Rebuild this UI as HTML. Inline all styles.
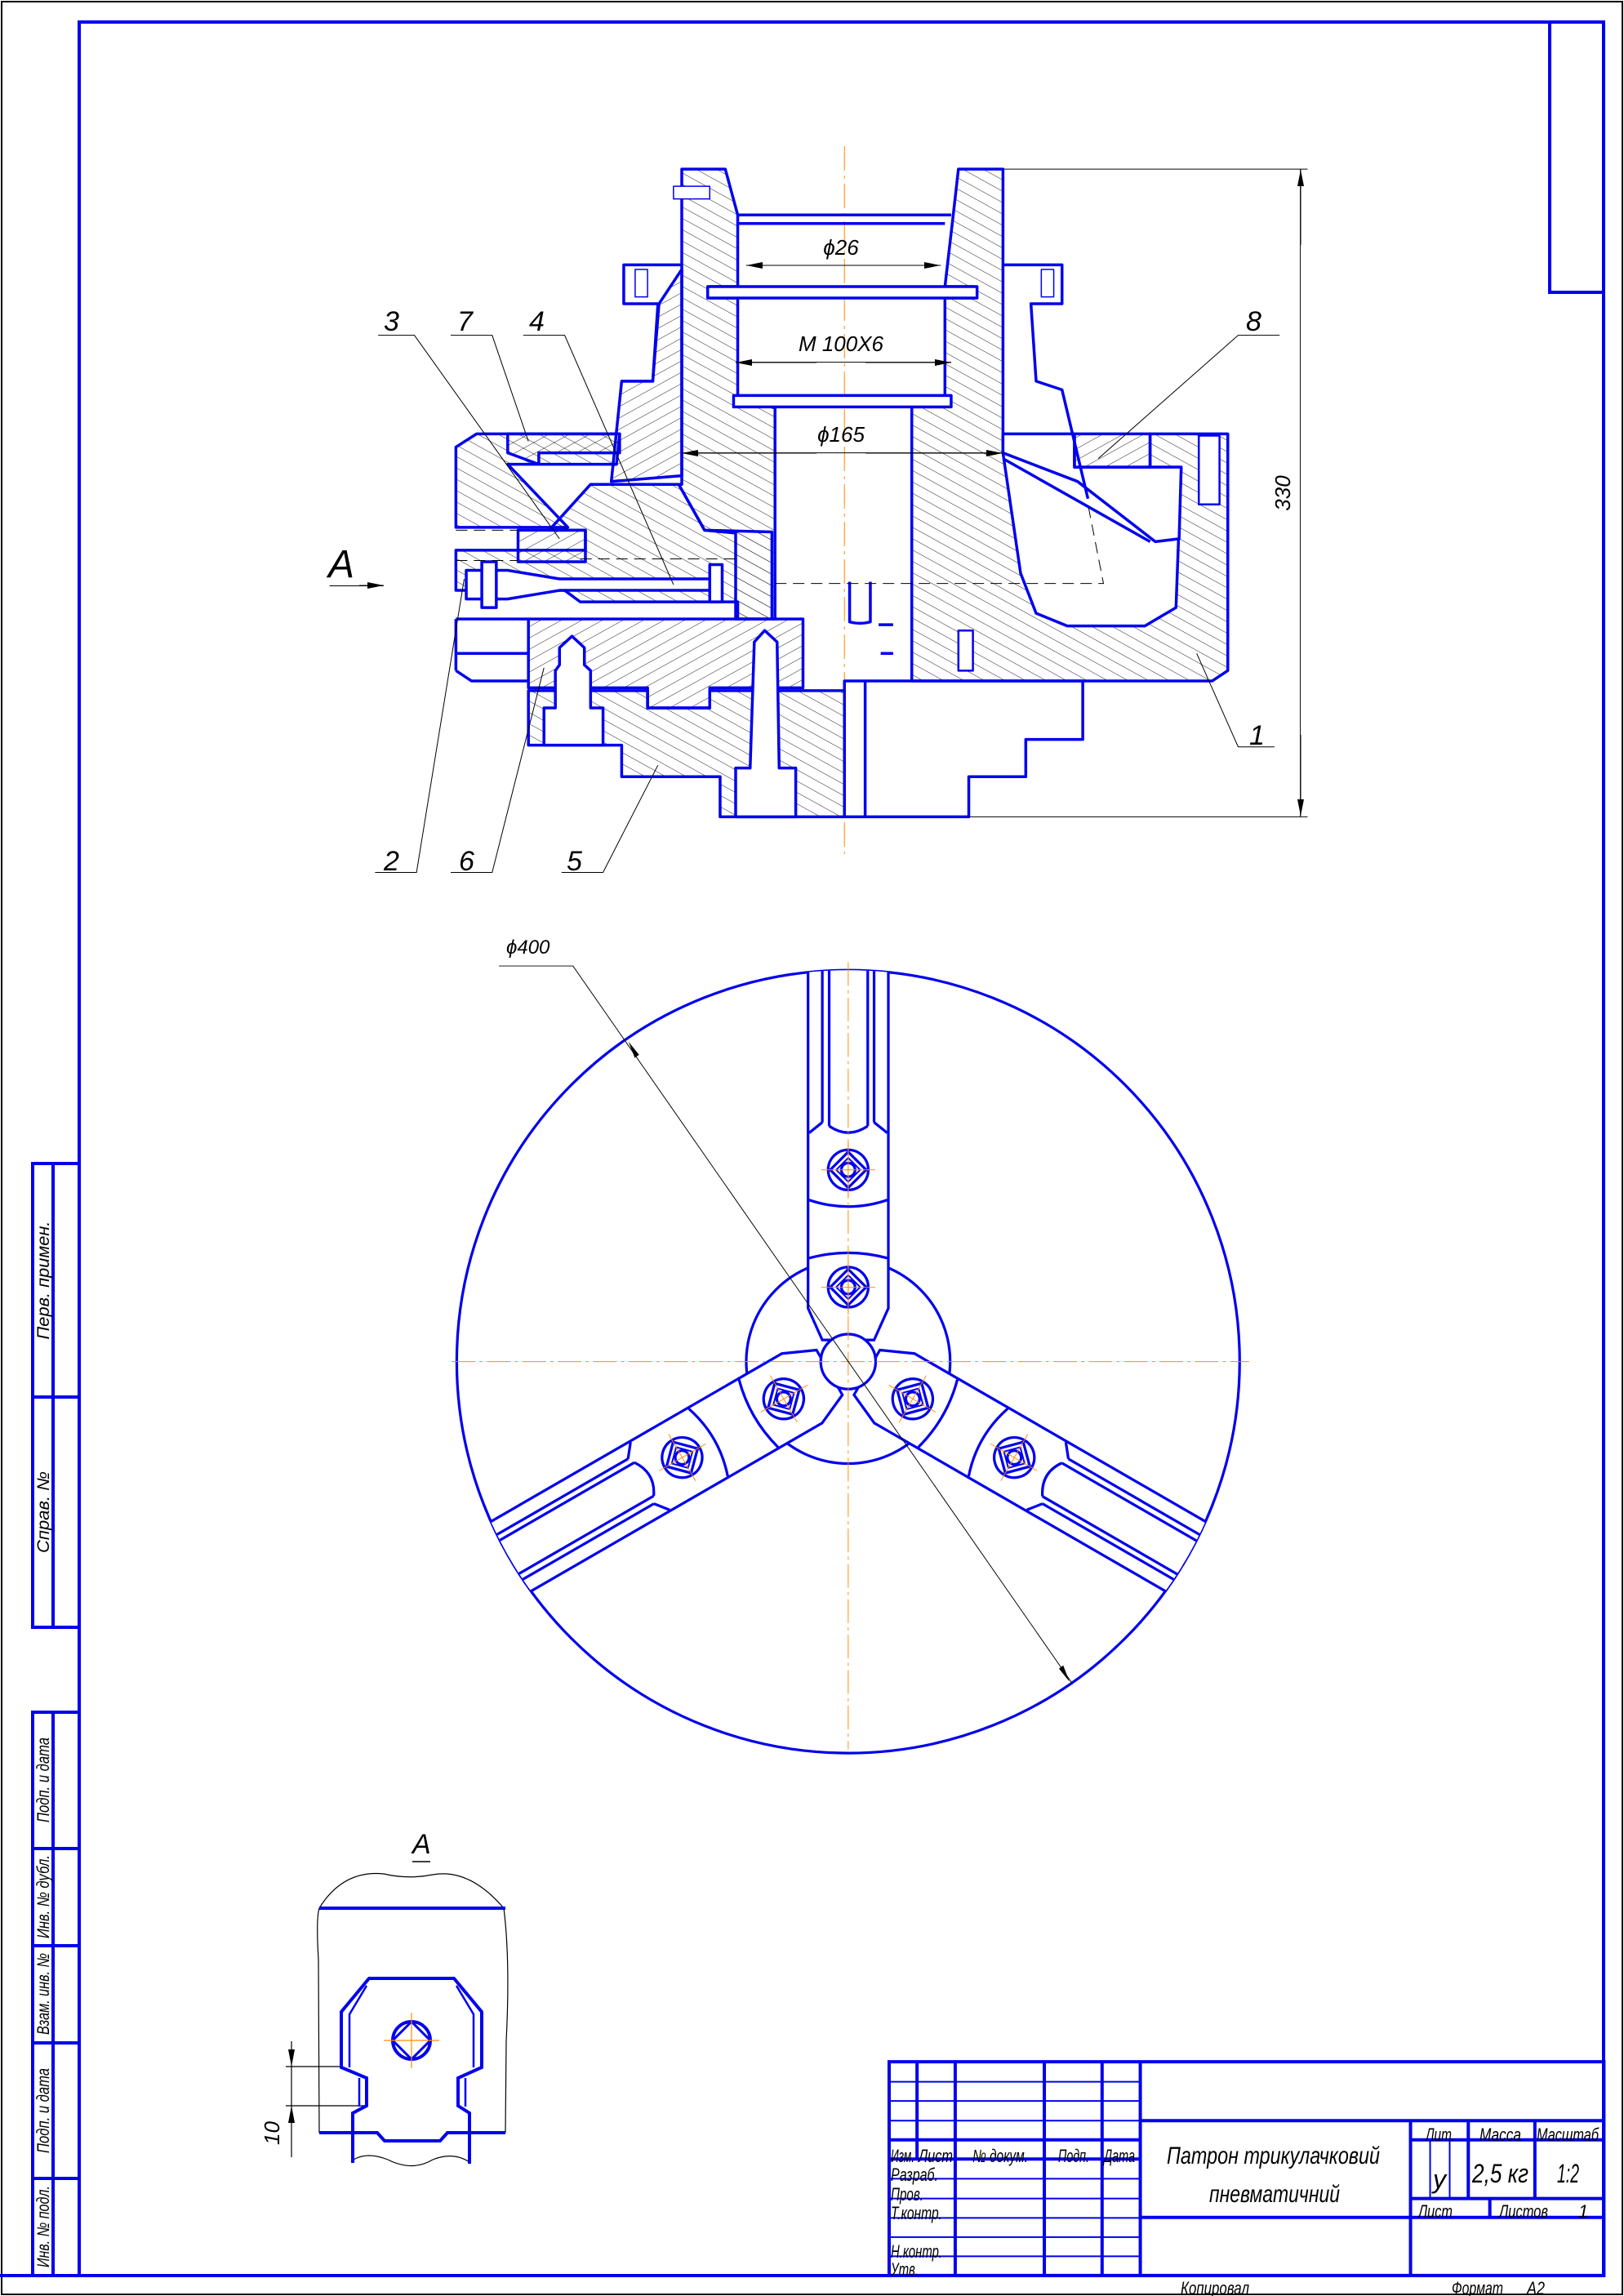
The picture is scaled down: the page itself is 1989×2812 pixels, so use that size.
<!DOCTYPE html>
<html><head><meta charset="utf-8"><style>
html,body{margin:0;padding:0;background:#fff}
svg{display:block}
text{font-family:"Liberation Sans","DejaVu Sans",sans-serif;font-style:italic;fill:#000}
</style></head><body>
<svg width="1989" height="2812" viewBox="0 0 1989 2812" xmlns="http://www.w3.org/2000/svg">
<defs>
<pattern id="h1" width="14" height="14" patternUnits="userSpaceOnUse" patternTransform="rotate(45)"><line x1="0" y1="0" x2="0" y2="14" stroke="#000" stroke-width="1"/></pattern>
<pattern id="h2" width="14" height="14" patternUnits="userSpaceOnUse" patternTransform="rotate(-45)"><line x1="0" y1="0" x2="0" y2="14" stroke="#000" stroke-width="1"/></pattern>
<marker id="ar" viewBox="0 0 20 8" refX="20" refY="4" markerWidth="20" markerHeight="8" markerUnits="userSpaceOnUse" orient="auto"><path d="M0,0 L20,4 L0,8 Z" fill="#000"/></marker>
<clipPath id="cc"><circle cx="771" cy="831" r="741"/></clipPath>
</defs>
<rect x="0" y="0" width="1989" height="2812" fill="#fff"/>
<rect x="2" y="2" width="1985" height="2808" fill="none" stroke="#000" stroke-width="2"/>
<g fill="none" stroke="#0000ee" stroke-width="4">
<rect x="97" y="27" width="1867" height="2760"/>
<polyline points="1898,27 1898,358 1964,358"/>
<polyline points="97,1425 40,1425 40,1993 97,1993"/>
<line x1="65" y1="1425" x2="65" y2="1993"/>
<line x1="40" y1="1711" x2="97" y2="1711"/>
<polyline points="97,2097 40,2097 40,2787 97,2787"/>
<line x1="65" y1="2097" x2="65" y2="2787"/>
<line x1="40" y1="2264" x2="97" y2="2264"/>
<line x1="40" y1="2383" x2="97" y2="2383"/>
<line x1="40" y1="2502" x2="97" y2="2502"/>
<line x1="40" y1="2668" x2="97" y2="2668"/>
</g>
<g font-size="21" text-anchor="middle" lengthAdjust="spacingAndGlyphs">
<text transform="translate(60,1568) rotate(-90)" textLength="145" lengthAdjust="spacingAndGlyphs">Перв. примен.</text>
<text transform="translate(60,1852) rotate(-90)" textLength="100" lengthAdjust="spacingAndGlyphs">Справ. №</text>
<text transform="translate(60,2180) rotate(-90)" textLength="104" lengthAdjust="spacingAndGlyphs">Подп. и дата</text>
<text transform="translate(60,2323) rotate(-90)" textLength="102" lengthAdjust="spacingAndGlyphs">Инв. № дубл.</text>
<text transform="translate(60,2442) rotate(-90)" textLength="100" lengthAdjust="spacingAndGlyphs">Взам. инв. №</text>
<text transform="translate(60,2585) rotate(-90)" textLength="104" lengthAdjust="spacingAndGlyphs">Подп. и дата</text>
<text transform="translate(60,2727) rotate(-90)" textLength="100" lengthAdjust="spacingAndGlyphs">Инв. № подл.</text>
</g>

<!-- TITLE BLOCK -->
<g transform="translate(1050,2500) scale(0.5996,0.3355)" fill="none" stroke="#0000ee">
<g stroke-width="4">
<rect x="65" y="75" width="1460" height="780" vector-effect="non-scaling-stroke"/>
<line x1="122" y1="75" x2="122" y2="430" vector-effect="non-scaling-stroke"/>
<line x1="200" y1="75" x2="200" y2="855" vector-effect="non-scaling-stroke"/>
<line x1="382" y1="75" x2="382" y2="855" vector-effect="non-scaling-stroke"/>
<line x1="500" y1="75" x2="500" y2="855" vector-effect="non-scaling-stroke"/>
<line x1="578" y1="75" x2="578" y2="855" vector-effect="non-scaling-stroke"/>
<line x1="65" y1="360" x2="578" y2="360" vector-effect="non-scaling-stroke"/>
<line x1="65" y1="430" x2="578" y2="430" vector-effect="non-scaling-stroke"/>
<line x1="578" y1="290" x2="1525" y2="290" vector-effect="non-scaling-stroke"/>
<line x1="578" y1="643" x2="1525" y2="643" vector-effect="non-scaling-stroke"/>
<line x1="1130" y1="290" x2="1130" y2="855" vector-effect="non-scaling-stroke"/>
<line x1="1130" y1="360" x2="1525" y2="360" vector-effect="non-scaling-stroke"/>
<line x1="1130" y1="574" x2="1525" y2="574" vector-effect="non-scaling-stroke"/>
<line x1="1248" y1="290" x2="1248" y2="574" vector-effect="non-scaling-stroke"/>
<line x1="1384" y1="290" x2="1384" y2="574" vector-effect="non-scaling-stroke"/>
<line x1="1292" y1="574" x2="1292" y2="643" vector-effect="non-scaling-stroke"/>
</g>
<g stroke-width="2">
<line x1="65" y1="148" x2="578" y2="148" vector-effect="non-scaling-stroke"/>
<line x1="65" y1="218" x2="578" y2="218" vector-effect="non-scaling-stroke"/>
<line x1="65" y1="290" x2="578" y2="290" vector-effect="non-scaling-stroke"/>
<line x1="65" y1="502" x2="578" y2="502" vector-effect="non-scaling-stroke"/>
<line x1="65" y1="574" x2="578" y2="574" vector-effect="non-scaling-stroke"/>
<line x1="65" y1="645" x2="578" y2="645" vector-effect="non-scaling-stroke"/>
<line x1="65" y1="715" x2="578" y2="715" vector-effect="non-scaling-stroke"/>
<line x1="65" y1="785" x2="578" y2="785" vector-effect="non-scaling-stroke"/>
<line x1="1170" y1="360" x2="1170" y2="574" vector-effect="non-scaling-stroke"/>
<line x1="1210" y1="360" x2="1210" y2="574" vector-effect="non-scaling-stroke"/>
</g>
</g>
<line x1="0" y1="2787" x2="1089" y2="2787" stroke="#0000ee" stroke-width="4"/>
<g font-size="22">
<text x="1091" y="2648" textLength="29" lengthAdjust="spacingAndGlyphs">Изм.</text>
<text x="1125" y="2648" textLength="42" lengthAdjust="spacingAndGlyphs">Лист</text>
<text x="1191" y="2648" textLength="68" lengthAdjust="spacingAndGlyphs">№ докум.</text>
<text x="1296" y="2648" textLength="38" lengthAdjust="spacingAndGlyphs">Подп.</text>
<text x="1352" y="2648" textLength="38" lengthAdjust="spacingAndGlyphs">Дата</text>
<text x="1091" y="2671" textLength="58" lengthAdjust="spacingAndGlyphs">Разраб.</text>
<text x="1091" y="2695" textLength="40" lengthAdjust="spacingAndGlyphs">Пров.</text>
<text x="1091" y="2718" textLength="63" lengthAdjust="spacingAndGlyphs">Т.контр.</text>
<text x="1091" y="2765" textLength="63" lengthAdjust="spacingAndGlyphs">Н.контр.</text>
<text x="1091" y="2787" textLength="34" lengthAdjust="spacingAndGlyphs">Утв.</text>
<text x="1746" y="2622" textLength="36" lengthAdjust="spacingAndGlyphs">Лит.</text>
<text x="1812" y="2622" textLength="51" lengthAdjust="spacingAndGlyphs">Масса</text>
<text x="1882" y="2622" textLength="76" lengthAdjust="spacingAndGlyphs">Масштаб</text>
<text x="1737" y="2716" textLength="42" lengthAdjust="spacingAndGlyphs">Лист</text>
<text x="1836" y="2716" textLength="60" lengthAdjust="spacingAndGlyphs">Листов</text>
<text x="1933" y="2716">1</text>
<text x="1446" y="2810" textLength="84" lengthAdjust="spacingAndGlyphs">Копировал</text>
<text x="1778" y="2810" textLength="63" lengthAdjust="spacingAndGlyphs">Формат</text>
<text x="1870" y="2810" textLength="22" lengthAdjust="spacingAndGlyphs">A2</text>
</g>
<g font-size="30">
<text x="1429" y="2650" textLength="261" lengthAdjust="spacingAndGlyphs">Патрон трикулачковий</text>
<text x="1481" y="2697" textLength="160" lengthAdjust="spacingAndGlyphs">пневматичний</text>
<text x="1755" y="2680" font-size="32">у</text>
<text x="1803" y="2673" font-size="32" textLength="69" lengthAdjust="spacingAndGlyphs">2,5 кг</text>
<text x="1907" y="2673" font-size="32" textLength="27" lengthAdjust="spacingAndGlyphs">1:2</text>
</g>

<!-- SECTION VIEW -->
<g transform="matrix(1.269,0,0,0.702,0,0)">
<line x1="815" y1="255" x2="815" y2="1490" stroke="#ff8c00" stroke-width="1" stroke-dasharray="30,6,4,6" vector-effect="non-scaling-stroke"/>
<g stroke="#0000ee" stroke-width="3.5" stroke-linejoin="round">
<path vector-effect="non-scaling-stroke" fill="url(#h2)" d="M658,295 L700,295 L712,375 L712,500 L685,500 L685,520 L712,520 L712,690 L748,712 L748,1080 L710,1080 L710,930 L680,925 L655,845 L658,845 Z"/>
<path vector-effect="non-scaling-stroke" fill="url(#h2)" d="M925,295 L968,295 L968,790 L985,1000 L1000,1070 L1030,1092 L1105,1092 L1135,1060 L1140,815 L1110,815 L1110,757 L1185,757 L1185,1170 L1170,1188 L880,1188 L880,710 L912,710 L912,520 L940,520 L940,500 L912,500 L920,375 Z"/>
<path vector-effect="non-scaling-stroke" fill="#fff" d="M968,790 L1040,840 L1115,945 L1138,940 L1140,815 L1037,815 L1037,757 L968,757 Z"/>
<path vector-effect="non-scaling-stroke" fill="url(#h1)" d="M1037,757 L1110,757 L1110,815 L1037,815 Z"/>
<line vector-effect="non-scaling-stroke" x1="968" y1="800" x2="1110" y2="945"/>
<path vector-effect="non-scaling-stroke" fill="none" d="M968,462 L1025,462 L1025,530 L995,530 L1000,665 L1025,680 L1050,870"/>
<path vector-effect="non-scaling-stroke" fill="none" d="M658,462 L602,462 L602,530 L635,530 L630,665 L600,665"/>
<path vector-effect="non-scaling-stroke" fill="#fff" d="M683,500 L943,500 L943,520 L683,520 Z"/>
<path vector-effect="non-scaling-stroke" fill="#fff" d="M708,690 L918,690 L918,710 L708,710 Z"/>
<path vector-effect="non-scaling-stroke" fill="none" d="M712,375 L918,375 M712,390 L912,390"/>
<path vector-effect="non-scaling-stroke" fill="url(#h1)" d="M636,530 L658,470 L658,830 L590,840 L600,665 L630,665 Z"/>
<path vector-effect="non-scaling-stroke" fill="url(#h2)" d="M460,757 L598,757 L595,810 L490,810 L548,920 L440,920 L440,780 Z"/>
<path vector-effect="non-scaling-stroke" fill="url(#h1)" d="M490,757 L598,757 L598,790 L520,790 L520,810 L490,790 Z"/>
<path vector-effect="non-scaling-stroke" fill="url(#h2)" d="M570,845 L655,845 L680,925 L745,928 L745,1080 L712,1080 L712,1050 L560,1050 L545,1030 L440,1030 L440,960 L565,960 L565,925 L530,925 Z"/>
<path vector-effect="non-scaling-stroke" fill="url(#h1)" d="M500,925 L565,925 L565,980 L500,980 Z"/>
<path vector-effect="non-scaling-stroke" fill="#fff" d="M450,995 L490,995 L540,1010 L690,1010 L690,1030 L540,1030 L490,1045 L450,1045 Z"/>
<rect vector-effect="non-scaling-stroke" x="465" y="980" width="14" height="80" fill="#fff"/>
<rect vector-effect="non-scaling-stroke" x="685" y="985" width="12" height="65" fill="#fff"/>
<line vector-effect="non-scaling-stroke" x1="440" y1="1080" x2="440" y2="1170"/>
<path vector-effect="non-scaling-stroke" fill="none" d="M440,1080 L510,1080 M440,1140 L510,1140 M440,1170 L455,1188 L510,1188"/>
<path vector-effect="non-scaling-stroke" fill="url(#h1)" d="M510,1080 L775,1080 L775,1200 L685,1200 L685,1235 L625,1235 L625,1200 L510,1200 Z"/>
<path vector-effect="non-scaling-stroke" fill="url(#h2)" d="M510,1205 L625,1205 L625,1235 L685,1235 L685,1205 L815,1205 L815,1425 L695,1425 L695,1355 L600,1355 L600,1300 L510,1300 Z"/>
<path vector-effect="non-scaling-stroke" fill="#fff" d="M540,1160 L540,1130 L552,1110 L564,1130 L564,1160 L570,1170 L570,1235 L582,1235 L582,1300 L525,1300 L525,1235 L536,1235 L536,1170 Z"/>
<path vector-effect="non-scaling-stroke" fill="#fff" d="M728,1120 L738,1100 L750,1120 L752,1340 L768,1340 L768,1425 L710,1425 L710,1340 L724,1340 Z"/>
<path vector-effect="non-scaling-stroke" fill="none" d="M835,1188 L1045,1188 L1045,1290 L990,1290 L990,1355 L935,1355 L935,1425 L815,1425 M835,1188 L835,1425 M815,1205 L815,1188 L835,1188"/>
<path vector-effect="non-scaling-stroke" fill="none" d="M820,1015 L820,1085 Q830,1090 840,1085 L840,1015 M848,1090 L862,1090 M850,1140 L862,1140"/>
<rect vector-effect="non-scaling-stroke" x="650" y="325" width="35" height="22" fill="#fff" stroke-width="1.5"/>
<rect vector-effect="non-scaling-stroke" x="613" y="470" width="12" height="48" fill="#fff" stroke-width="1.5"/>
<rect vector-effect="non-scaling-stroke" x="1005" y="470" width="12" height="48" fill="#fff" stroke-width="1.5"/>
<rect vector-effect="non-scaling-stroke" x="1157" y="760" width="20" height="120" fill="#fff" stroke-width="2.5"/>
<rect vector-effect="non-scaling-stroke" x="925" y="1100" width="14" height="70" fill="#fff" stroke-width="2.5"/>
</g>
<g stroke="#000" stroke-width="1" stroke-dasharray="14,8" fill="none">
<path vector-effect="non-scaling-stroke" d="M748,1018 L1065,1018 L1050,880"/>
<path vector-effect="non-scaling-stroke" d="M440,925 L500,925 M440,978 L500,978 M560,975 L715,975"/>
</g>
<g stroke="#000" stroke-width="1" fill="none">
<line vector-effect="non-scaling-stroke" x1="720" y1="463" x2="908" y2="463"/>
<line vector-effect="non-scaling-stroke" x1="710" y1="632" x2="918" y2="632"/>
<line vector-effect="non-scaling-stroke" x1="658" y1="790" x2="968" y2="790"/>
<line vector-effect="non-scaling-stroke" x1="968" y1="295" x2="1262" y2="295"/>
<line vector-effect="non-scaling-stroke" x1="935" y1="1425" x2="1262" y2="1425"/>
<line vector-effect="non-scaling-stroke" x1="1255" y1="295" x2="1255" y2="1425"/>
<path vector-effect="non-scaling-stroke" d="M365,585 L400,585 L540,940"/>
<path vector-effect="non-scaling-stroke" d="M435,585 L475,585 L510,770"/>
<path vector-effect="non-scaling-stroke" d="M505,585 L545,585 L650,1020"/>
<path vector-effect="non-scaling-stroke" d="M1235,585 L1195,585 L1060,800"/>
<path vector-effect="non-scaling-stroke" d="M1230,1303 L1195,1303 L1155,1140"/>
<path vector-effect="non-scaling-stroke" d="M362,1522 L402,1522 L448,1010"/>
<path vector-effect="non-scaling-stroke" d="M435,1522 L475,1522 L525,1165"/>
<path vector-effect="non-scaling-stroke" d="M542,1522 L582,1522 L635,1335"/>
<line vector-effect="non-scaling-stroke" x1="318" y1="1022" x2="370" y2="1022"/>
</g>
</g>
<g stroke="#000" stroke-width="1">
<line x1="1000" y1="325" x2="914" y2="325" marker-end="url(#ar)"/>
<line x1="1060" y1="325" x2="1152" y2="325" marker-end="url(#ar)"/>
<line x1="1000" y1="444" x2="901" y2="444" marker-end="url(#ar)"/>
<line x1="1060" y1="444" x2="1165" y2="444" marker-end="url(#ar)"/>
<line x1="1000" y1="555" x2="835" y2="555" marker-end="url(#ar)"/>
<line x1="1060" y1="555" x2="1228" y2="555" marker-end="url(#ar)"/>
<line x1="1593" y1="300" x2="1593" y2="208" marker-end="url(#ar)"/>
<line x1="1593" y1="900" x2="1593" y2="999" marker-end="url(#ar)"/>
<line x1="440" y1="717" x2="470" y2="717" marker-end="url(#ar)"/>
</g>
<g font-size="26" text-anchor="middle">
<text x="1030" y="312">ϕ26</text>
<text x="1030" y="430">M 100X6</text>
<text x="1030" y="541">ϕ165</text>
<text transform="translate(1580,604) rotate(-90)">330</text>
</g>
<g font-size="34">
<text x="470" y="405">3</text>
<text x="560" y="405">7</text>
<text x="648" y="405">4</text>
<text x="1526" y="405">8</text>
<text x="1530" y="912">1</text>
<text x="470" y="1066">2</text>
<text x="562" y="1066">6</text>
<text x="694" y="1066">5</text>
</g>
<text x="402" y="707" font-size="48" font-style="normal">A</text>

<!-- CIRCLE VIEW -->
<g transform="translate(540,1130) scale(0.647)">
<g stroke="#0000ee" stroke-width="5" fill="none">
<circle cx="771" cy="831" r="741"/>
<circle cx="771" cy="831" r="193"/>
</g>
<g clip-path="url(#cc)">
<g id="arm" stroke="#0000ee" stroke-width="5">
<path d="M695,60 L847,60 L847,730 L820,790 L722,790 L695,730 Z" fill="#fff"/>
<path fill="none" d="M722,60 V378 M735,60 V385 M808,60 V385 M820,60 V378 M722,378 L697,398 M820,378 L845,398 M735,385 Q771,410 808,385 M697,525 Q771,550 845,525 M697,635 Q771,615 845,635"/>
<circle cx="771" cy="468" r="38" fill="none"/>
<rect x="747" y="444" width="48" height="48" transform="rotate(45 771 468)" fill="none"/>
<rect x="755" y="452" width="32" height="32" transform="rotate(45 771 468)" fill="none" stroke-width="3"/>
<circle cx="771" cy="468" r="13" fill="none"/>
<circle cx="771" cy="690" r="38" fill="none"/>
<rect x="747" y="666" width="48" height="48" transform="rotate(45 771 690)" fill="none"/>
<rect x="755" y="674" width="32" height="32" transform="rotate(45 771 690)" fill="none" stroke-width="3"/>
<circle cx="771" cy="690" r="13" fill="none"/>
<g stroke="#ff8c00" stroke-width="1.5"><line x1="720" y1="468" x2="822" y2="468"/><line x1="771" y1="418" x2="771" y2="520"/><line x1="720" y1="690" x2="822" y2="690"/><line x1="771" y1="640" x2="771" y2="742"/></g>
</g>
<use href="#arm" transform="rotate(120 771 831)"/>
<use href="#arm" transform="rotate(240 771 831)"/>
</g>
<circle cx="771" cy="831" r="52" fill="#fff" stroke="#0000ee" stroke-width="5"/>
<g stroke="#ff8c00" stroke-width="1.5" stroke-dasharray="45,8,6,8">
<line x1="20" y1="831" x2="1530" y2="831"/>
<line x1="771" y1="75" x2="771" y2="1565"/>
</g>
<path d="M110,82 L250,82 L1195,1440" stroke="#000" stroke-width="1.5" fill="none"/>
<path d="M355,225 L375,250 L367,256 Z" fill="#000"/>
<path d="M1190,1437 L1170,1412 L1178,1406 Z" fill="#000"/>
</g>
<text x="620" y="1168" font-size="24">ϕ400</text>

<!-- VIEW A -->
<text x="505" y="2270" font-size="34">A</text>
<line x1="505" y1="2280" x2="527" y2="2280" stroke="#000" stroke-width="1.5"/>
<g fill="none" stroke="#000" stroke-width="1.2">
<path d="M391,2337 Q420,2290 470,2295 Q500,2302 530,2296 Q575,2288 617,2337"/>
<path d="M391,2337 Q387,2350 390,2400 L391,2612"/>
<path d="M617,2337 Q625,2400 620,2500 L619,2612"/>
<path d="M433,2645 Q450,2635 475,2645 Q505,2660 530,2645 Q555,2635 575,2648"/>
<line x1="350" y1="2531" x2="418" y2="2531"/>
<line x1="350" y1="2579" x2="447" y2="2579"/>
<line x1="357" y1="2500" x2="357" y2="2642"/>
</g>
<path d="M357,2531 L353,2510 L361,2510 Z M357,2579 L353,2600 L361,2600 Z" fill="#000"/>
<text transform="translate(342,2627) rotate(-90)" font-size="26">10</text>
<g fill="none" stroke="#0000ee" stroke-width="4">
<line x1="391" y1="2337" x2="619" y2="2337"/>
<path d="M391,2612 L462,2612 L471,2622 L539,2622 L548,2612 L619,2612"/>
<path d="M432,2649 L432,2588 L449,2579 L449,2545 L418,2532 L418,2464 L452,2423 L556,2423 L590,2464 L590,2532 L561,2545 L561,2579 L575,2588 L575,2650"/>
<path d="M428,2532 L428,2467 L449,2432 M580,2532 L580,2467 L559,2432 M440,2545 L440,2580 M570,2545 L570,2580" stroke-width="2.5"/>
<circle cx="504" cy="2499" r="23"/>
<path d="M504,2476 L527,2499 L504,2522 L481,2499 Z" stroke-width="3"/>
</g>
<g stroke="#ff8c00" stroke-width="1.2"><line x1="470" y1="2499" x2="538" y2="2499"/><line x1="504" y1="2465" x2="504" y2="2533"/></g>
</svg>
</body></html>
